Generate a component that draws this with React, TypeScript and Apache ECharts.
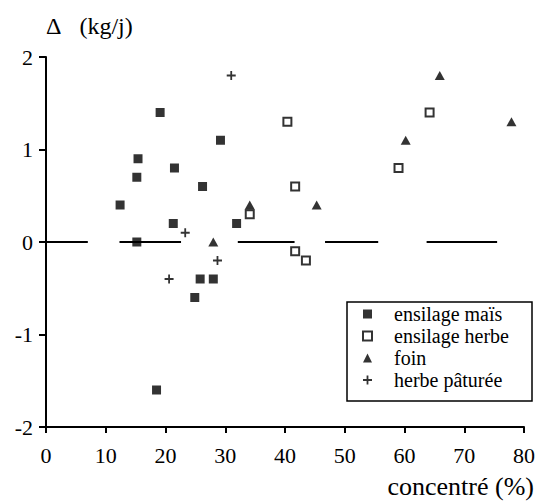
import React, { useEffect, useRef } from "react";
import * as echarts from "echarts";

// ensilage maïs (filled squares)
const maisX = [12.4, 15.2, 15.4, 15.2, 19.1, 21.5, 21.3, 26.2, 29.2, 31.9, 18.5, 24.9, 25.8, 28.0];
const maisY = [0.4, 0.7, 0.9, 0.0, 1.4, 0.8, 0.2, 0.6, 1.1, 0.2, -1.6, -0.6, -0.4, -0.4];
// ensilage herbe (open squares)
const herbeEnsX = [34.1, 40.4, 41.7, 41.7, 43.5, 59.0, 64.2];
const herbeEnsY = [0.3, 1.3, 0.6, -0.1, -0.2, 0.8, 1.4];
// foin (triangles)
const foinX = [28.0, 34.1, 45.3, 60.2, 65.9, 77.9];
const foinY = [0.0, 0.4, 0.4, 1.1, 1.8, 1.3];
// herbe pâturée (plus)
const patX = [31.0, 23.3, 20.6, 28.7];
const patY = [1.8, 0.1, -0.4, -0.2];
// horizontal segments at y = 0
const zeroSegments = [
  [0, 7.0],
  [12.3, 22.6],
  [32.1, 41.6],
  [46.7, 55.6],
  [63.7, 75.5],
];
const seriesNames = ["ensilage maïs", "ensilage herbe", "foin", "herbe pâturée"];
const yTitle = "Δ\u00a0\u00a0\u00a0(kg/j)";
const xTitle = "concentré (%)";

const zip = (xs: number[], ys: number[]) => xs.map((x, i) => [x, ys[i]]);
const PLUS = "path://M4,0H6V4H10V6H6V10H4V6H0V4H4Z";
const FONT = "Liberation Serif";

export default function App() {
  const ref = useRef<HTMLDivElement>(null);
  useEffect(() => {
    if (!ref.current) return;
    const chart = echarts.init(ref.current, null, { renderer: "svg" });
    chart.setOption({
      animation: false,
      backgroundColor: "#fff",
      grid: { left: 46, top: 57, right: 10.5, bottom: 75, containLabel: false },
      xAxis: {
        type: "value",
        min: 0,
        max: 80,
        interval: 10,
        axisLine: { show: true, onZero: false, lineStyle: { color: "#000", width: 2 } },
        axisTick: { show: true, inside: false, length: 6, lineStyle: { color: "#000", width: 2 } },
        splitLine: { show: false },
        axisLabel: { fontFamily: FONT, fontSize: 22, color: "#000", margin: 17 },
      },
      yAxis: {
        type: "value",
        min: -2,
        max: 2,
        interval: 1,
        name: yTitle,
        nameLocation: "end",
        nameGap: 31,
        nameTextStyle: {
          fontFamily: FONT,
          fontSize: 24,
          color: "#000",
          align: "left",
          verticalAlign: "middle",
        },
        axisLine: { show: true, onZero: false, lineStyle: { color: "#000", width: 2 } },
        axisTick: { show: true, inside: false, length: 7, lineStyle: { color: "#000", width: 2 } },
        splitLine: { show: false },
        axisLabel: { fontFamily: FONT, fontSize: 22, color: "#000", margin: 13, padding: [7, 0, 0, 0] },
      },
      legend: {
        show: true,
        orient: "vertical",
        left: 362,
        top: 303,
        padding: 0,
        itemGap: 0,
        itemWidth: 9,
        itemHeight: 9,
        data: seriesNames,
        textStyle: {
          fontFamily: FONT,
          fontSize: 20,
          color: "#000",
          lineHeight: 22,
          padding: [0, 0, 0, 17],
        },
      },
      graphic: [
        {
          type: "rect",
          shape: { x: 347, y: 302, width: 185, height: 99 },
          style: { fill: "none", stroke: "#000", lineWidth: 1.5 },
          silent: true,
        },
        {
          type: "text",
          x: 534,
          y: 486,
          style: {
            text: xTitle,
            fontFamily: FONT,
            fontSize: 26,
            fill: "#000",
            align: "right",
            verticalAlign: "middle",
          },
          silent: true,
        },
      ],
      series: [
        {
          name: seriesNames[0],
          type: "scatter",
          symbol: "rect",
          symbolSize: 9,
          itemStyle: { color: "#000" },
          data: zip(maisX, maisY),
          z: 3,
        },
        {
          name: seriesNames[1],
          type: "scatter",
          symbol: "rect",
          symbolSize: 8,
          itemStyle: { color: "#fff", borderColor: "#000", borderWidth: 2 },
          data: zip(herbeEnsX, herbeEnsY),
          z: 3,
        },
        {
          name: seriesNames[2],
          type: "scatter",
          symbol: "triangle",
          symbolSize: [10, 9],
          itemStyle: { color: "#000" },
          data: zip(foinX, foinY),
          z: 3,
        },
        {
          name: seriesNames[3],
          type: "scatter",
          symbol: PLUS,
          symbolSize: 9,
          itemStyle: { color: "#000" },
          data: zip(patX, patY),
          z: 3,
          markLine: {
            silent: true,
            symbol: ["none", "none"],
            label: { show: false },
            lineStyle: { color: "#000", width: 2, type: "solid" },
            emphasis: { disabled: true },
            data: zeroSegments.map(([a, b]) => [{ coord: [a, 0] }, { coord: [b, 0] }]),
          },
        },
      ],
    });
    return () => chart.dispose();
  }, []);
  return (
    <div
      ref={ref}
      style={{ position: "absolute", left: 0, top: 0, width: 538, height: 502, background: "#fff" }}
    />
  );
}
